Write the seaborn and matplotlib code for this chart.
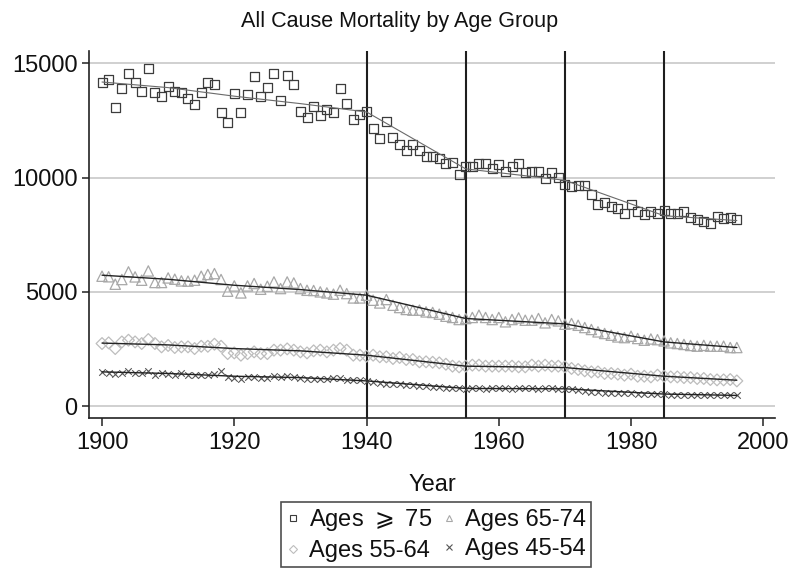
import numpy as np
import pandas as pd
import seaborn as sns
import matplotlib
matplotlib.use("Agg")
import matplotlib.pyplot as plt
from matplotlib.lines import Line2D

# Data (annual, 1900-1996)
years = np.arange(1900, 1997)

ages_75 = [14180, 14285, 13060, 13905, 14560, 14150, 13775, 14750, 13700, 13555,
           14005, 13775, 13700, 13455, 13190, 13700, 14150, 14080, 12840, 12420,
           13685, 12855, 13630, 14400, 13555, 13920, 14560, 13380, 14460, 14080,
           12910, 12635, 13120, 12710, 12985, 12855, 13890, 13235, 12550, 12780,
           12910, 12140, 11705, 12460, 11750, 11445, 11195, 11445, 11195, 10920,
           10920, 10830, 10610, 10670, 10130, 10465, 10495, 10595, 10595, 10395,
           10580, 10260, 10495, 10610, 10215, 10275, 10275, 9970, 10215, 9985,
           9675, 9620, 9650, 9650, 9270, 8830, 8890, 8715, 8645, 8425,
           8820, 8495, 8380, 8495, 8450, 8540, 8425, 8425, 8495, 8250,
           8165, 8060, 7990, 8280, 8190, 8235, 8165]

ages_65_74 = [5685, 5660, 5335, 5540, 5875, 5655, 5510, 5915, 5410, 5410,
              5610, 5555, 5480, 5470, 5510, 5685, 5760, 5800, 5540, 5030,
              5260, 4955, 5260, 5365, 5115, 5245, 5435, 5145, 5435, 5390,
              5145, 5070, 5060, 5000, 4955, 4900, 5070, 4925, 4735, 4735,
              4855, 4635, 4515, 4665, 4415, 4315, 4230, 4200, 4200, 4125,
              4100, 4025, 3935, 3880, 3790, 3835, 3880, 3980, 3880, 3790,
              3880, 3690, 3790, 3860, 3760, 3760, 3835, 3645, 3790, 3730,
              3585, 3615, 3540, 3440, 3355, 3250, 3180, 3105, 3030, 3000,
              3060, 2960, 2885, 2940, 2910, 2855, 2770, 2740, 2700, 2655,
              2625, 2660, 2625, 2625, 2625, 2565, 2565]

ages_55_64 = [2740, 2770, 2520, 2810, 2885, 2810, 2740, 2915, 2740, 2595,
              2655, 2565, 2595, 2595, 2520, 2620, 2620, 2710, 2620, 2300,
              2330, 2230, 2300, 2375, 2300, 2300, 2450, 2450, 2505, 2450,
              2375, 2330, 2420, 2450, 2375, 2450, 2520, 2450, 2230, 2230,
              2185, 2230, 2160, 2160, 2085, 2130, 2040, 2040, 1940, 1940,
              1920, 1895, 1835, 1750, 1720, 1750, 1795, 1795, 1750, 1750,
              1750, 1750, 1750, 1720, 1720, 1795, 1750, 1795, 1750, 1750,
              1720, 1650, 1605, 1545, 1500, 1500, 1430, 1430, 1400, 1355,
              1400, 1310, 1310, 1280, 1355, 1310, 1280, 1280, 1250, 1250,
              1210, 1210, 1165, 1150, 1150, 1165, 1105]

ages_45_54 = [1500, 1455, 1400, 1455, 1545, 1430, 1430, 1530, 1355, 1430,
              1400, 1355, 1430, 1355, 1355, 1355, 1355, 1400, 1545, 1280,
              1250, 1210, 1280, 1280, 1250, 1250, 1310, 1280, 1310, 1280,
              1250, 1210, 1210, 1210, 1210, 1250, 1250, 1165, 1150, 1150,
              1105, 1065, 1020, 990, 990, 950, 920, 920, 875, 875,
              845, 845, 815, 800, 775, 745, 775, 790, 760, 775,
              790, 775, 760, 775, 790, 775, 760, 775, 790, 760,
              745, 735, 700, 680, 625, 625, 580, 580, 580, 555,
              555, 530, 530, 530, 530, 530, 495, 495, 480, 480,
              480, 470, 470, 470, 470, 470, 470]

# Smoothed trend lines (read at the marked years)
fit_years = [1900, 1910, 1920, 1930, 1940, 1955, 1970, 1985, 1996]
fit_75 = [14180, 13935, 13560, 13235, 12870, 10380, 9880, 8330, 8120]
fit_65_74 = [5730, 5550, 5290, 5100, 4855, 3835, 3600, 2810, 2565]
fit_55_64 = [2760, 2680, 2520, 2420, 2230, 1750, 1690, 1310, 1135]
fit_45_54 = [1500, 1430, 1310, 1250, 1105, 775, 760, 530, 470]

breaks = [1940, 1955, 1970, 1985]
x_ticks = [1900, 1920, 1940, 1960, 1980, 2000]
y_ticks = [0, 5000, 10000, 15000]

labels = [r"Ages $\geqslant$ 75", "Ages 65-74", "Ages 55-64", "Ages 45-54"]

df = pd.DataFrame({
    "year": np.tile(years, 4),
    "rate": ages_75 + ages_65_74 + ages_55_64 + ages_45_54,
    "group": np.repeat(labels, len(years)),
})
fits = pd.DataFrame({
    "year": fit_years * 4,
    "rate": fit_75 + fit_65_74 + fit_55_64 + fit_45_54,
    "group": np.repeat(labels, len(fit_years)),
})

sns.set_style("white")
plt.rcParams["font.family"] = ["Liberation Sans", "DejaVu Sans"]
plt.rcParams["text.color"] = "#111111"
plt.rcParams["axes.labelcolor"] = "#111111"
plt.rcParams["xtick.color"] = "#111111"
plt.rcParams["ytick.color"] = "#111111"

fig = plt.figure(figsize=(8, 5.76), dpi=100)
ax = fig.add_axes([0.111, 0.274, 0.858, 0.637])

for y in y_ticks:
    ax.axhline(y, color="#c8c8c8", lw=1.2, zorder=0)
for b in breaks:
    ax.axvline(b, color="#1e1e1e", lw=1.5, zorder=1)

styles = {
    labels[0]: dict(marker="s", s=42, edge="#3c3c3c", line="#6a6a6a", lw=0.8),
    labels[1]: dict(marker="^", s=55, edge="#a8a8a8", line="#222222", lw=1.0),
    labels[2]: dict(marker="D", s=36, edge="#bdbdbd", line="#222222", lw=1.0),
    labels[3]: dict(marker="x", s=22, edge="#555555", line="#222222", lw=1.0),
}

for g in labels:
    st = styles[g]
    sub = df[df["group"] == g]
    if st["marker"] == "x":
        sns.scatterplot(data=sub, x="year", y="rate", marker="x", s=st["s"],
                        color=st["edge"], linewidth=0.8, ax=ax, zorder=2)
    else:
        sns.scatterplot(data=sub, x="year", y="rate", marker=st["marker"], s=st["s"],
                        facecolor="none", edgecolor=st["edge"], linewidth=0.9,
                        ax=ax, zorder=2)
    sns.lineplot(data=fits[fits["group"] == g], x="year", y="rate",
                 color=st["line"], lw=st["lw"], ax=ax, zorder=3)

ax.set_xlim(1898.0, 2001.8)
ax.set_ylim(-525, 15525)
ax.set_xticks(x_ticks)
ax.set_yticks(y_ticks)
ax.tick_params(axis="both", direction="out", length=6, width=1.1,
               color="#222222", labelsize=17, pad=4, left=True, bottom=True)
ax.tick_params(axis="y", length=5, pad=3)
ax.set_xlabel("Year", fontsize=17, labelpad=14)
ax.set_ylabel("")
for side in ["top", "right"]:
    ax.spines[side].set_visible(False)
for side in ["left", "bottom"]:
    ax.spines[side].set_color("#222222")
    ax.spines[side].set_linewidth(1.2)

fig.suptitle("All Cause Mortality by Age Group", x=0.5, y=0.962, va="center",
             fontsize=15.5)

# Legend: column-wise fill -> order [>=75, 55-64, 65-74, 45-54]
order = [0, 2, 1, 3]
handles = []
for i in order:
    st = styles[labels[i]]
    if st["marker"] == "x":
        h = Line2D([], [], marker="x", ls="none", color=st["edge"], markersize=4,
                   markeredgewidth=0.8)
    else:
        h = Line2D([], [], marker=st["marker"], ls="none", markerfacecolor="none",
                   markeredgecolor=st["edge"], markersize=4.5, markeredgewidth=0.8)
    handles.append(h)
leg = fig.legend(handles, [labels[i] for i in order], ncol=2, loc="upper center",
                 bbox_to_anchor=(0.545, 0.128), fontsize=17, frameon=True,
                 fancybox=False, edgecolor="#222222", handlelength=0.6,
                 handletextpad=0.4, columnspacing=0.4, borderpad=0.2,
                 labelspacing=0.3, borderaxespad=0)
leg.get_frame().set_linewidth(1.2)

fig.savefig("out.png", dpi=100)
